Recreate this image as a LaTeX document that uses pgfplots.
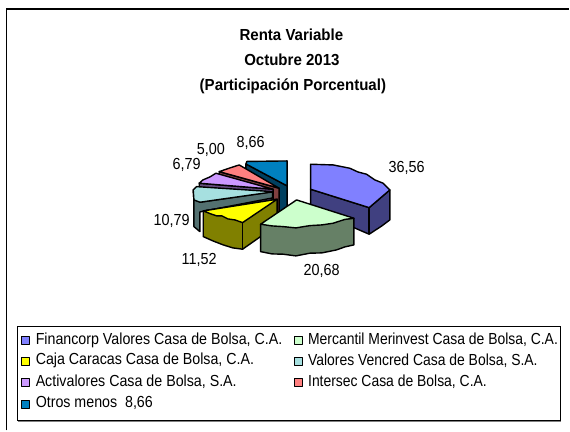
\documentclass[border=0pt]{standalone}
\usepackage{pgfplots}
\pgfplotsset{compat=1.18}
\usepackage{fontspec}
\setmainfont[FakeStretch=0.9]{Liberation Sans}
\newfontfamily\legfont[FakeStretch=0.89]{Liberation Sans}
\newfontfamily\legtwo[FakeStretch=0.87]{Liberation Sans}
\newfontfamily\titfont[FakeStretch=0.94]{Liberation Sans}
\definecolor{bt}{HTML}{8080FF}\definecolor{bs}{HTML}{404080}
\definecolor{gt}{HTML}{CCFFCC}\definecolor{gs}{HTML}{668066}
\definecolor{yt}{HTML}{FFFF00}\definecolor{ys}{HTML}{808000}
\definecolor{ct}{HTML}{A6E0E0}\definecolor{cs}{HTML}{537070}
\definecolor{pt}{HTML}{CC99FF}\definecolor{ps}{HTML}{664C80}
\definecolor{rt}{HTML}{FF8080}\definecolor{rs}{HTML}{804040}
\definecolor{nt}{HTML}{0080C0}\definecolor{ns}{HTML}{004060}
\pgfplotsset{poly/.style={draw=black,line width=1.05pt,line join=round,mark=none,fill=#1}}
\newcommand\tit[3]{\node[font=\titfont\bfseries\fontsize{12pt}{14pt}\selectfont] at (axis cs:#1,#2) {#3};}
\newcommand\dat[3]{\node[font=\fontsize{12pt}{14pt}\selectfont] at (axis cs:#1,#2) {#3};}
\newcommand\leg[3]{\node[anchor=west,inner xsep=0pt,font=\legfont\fontsize{12pt}{14pt}\selectfont] at (axis cs:#1,#2) {#3};}
\newcommand\legb[3]{\node[anchor=west,inner xsep=0pt,font=\legtwo\fontsize{12pt}{14pt}\selectfont] at (axis cs:#1,#2) {#3};}
\begin{document}
\begin{tikzpicture}
\begin{axis}[scale only axis,width=427.5pt,height=323.25pt,
  xmin=0,xmax=570,ymin=0,ymax=431,y dir=reverse,axis lines=none,clip=false]
\addplot[draw=none,mark=none] coordinates {(0,0)(570,431)};
% frame
\addplot[black,line width=1.1pt,mark=none] coordinates {(6.5,430.5)(6.5,9)(569.5,9)};
% otros
\addplot[poly=ns] coordinates {(246,164)(287.3,186)(287.3,213)(270,225)(246,190)} -- cycle;
\addplot[poly=nt] coordinates {(246,164)(247,161.5)(287.3,161)(287.3,186)} -- cycle;
% intersec
\addplot[poly=rs] coordinates {(219.3,171.7)(279.3,188.3)(279.3,215)(219.3,198)} -- cycle;
\addplot[poly=rt] coordinates {(219.3,171.7)(230,168)(239.3,165)(279.3,188.3)} -- cycle;
% activalores
\addplot[poly=ps] coordinates {(199.3,183.3)(273.3,189.3)(273.3,215)(199.3,209)} -- cycle;
\addplot[poly=pt] coordinates {(199.3,183.3)(203,180)(210,177)(216,173.3)(273.3,189.3)} -- cycle;
% vencred
\addplot[poly=cs] coordinates {(193.3,190)(194,200)(194,226.7)(200,231.7)(200,212)(272.7,198)(272.7,191.7)(200,202.3)} -- cycle;
\addplot[poly=ct] coordinates {(193.3,190)(196.7,186.7)(272.7,191.7)(272.7,192)(200,202.3)(194,200)} -- cycle;
% caja caracas
\addplot[poly=ys] coordinates {(203.3,211)(203.3,236.7)(213,241)(223.3,245)(233,248)(242.7,249.3)(277.3,225)(277.3,199.3)} -- cycle;
\addplot[poly=yt] coordinates {(203.3,211)(211,214)(217,216)(222,216)(228,219)(235,220)(242.7,222.7)(277.3,199.3)} -- cycle;
\addplot[black,line width=1.05pt,mark=none] coordinates {(242.7,222.7)(242.7,249.3)};
% financorp
\addplot[poly=bs] coordinates {(310.7,189.3)(369.3,207.7)(390,190)(390,220)(382,226)(369.3,234.3)(350,226)(310.7,215)} -- cycle;
\addplot[poly=bt] coordinates {(310.7,189.3)(310.7,164.3)(333.3,165)(350,168.3)(358,172)(366.7,174.3)(375,180)(383.3,183.3)(390,190)(369.3,207.7)} -- cycle;
\addplot[black,line width=1.05pt,mark=none] coordinates {(369.3,207.7)(369.3,234.3)};
% mercantil
\addplot[poly=gs] coordinates {(260.7,224.3)(260.7,251.7)(272,254)(283.3,254.3)(296,256)(310,253.3)(322,253)(336.7,250)(345,247)(354,245)(354,218.3)} -- cycle;
\addplot[poly=gt] coordinates {(296.7,200)(260.7,224.3)(272,226)(283.3,226.7)(296,228)(310,225.7)(322,225)(333.3,223.3)(345,219.5)(354,218.3)} -- cycle;
% title
\tit{291.5}{35}{Renta Variable}
\tit{292}{60}{Octubre 2013}
\tit{293}{86}{(Participación Porcentual)}
% data labels
\dat{406.7}{168}{36,56}
\dat{321.7}{270.7}{20,68}
\dat{199.3}{260}{11,52}
\dat{171.7}{220.7}{10,79}
\dat{186.7}{165}{6,79}
\dat{211}{150}{5,00}
\dat{250.7}{142.7}{8,66}
% legend box
\addplot[gray,line width=1.1pt,mark=none] coordinates {(18,421.8)(561.5,421.8)};
\addplot[draw=black,line width=0.8pt,mark=none,fill=white] coordinates {(17.3,326.7)(561,326.7)(561,420.8)(17.3,420.8)} -- cycle;
\addplot[poly=bt,line width=0.8pt] coordinates {(21.5,336.5)(29.5,336.5)(29.5,344.5)(21.5,344.5)} -- cycle;
\addplot[poly=yt,line width=0.8pt] coordinates {(21.5,358)(29.5,358)(29.5,366)(21.5,366)} -- cycle;
\addplot[poly=pt,line width=0.8pt] coordinates {(21.5,379)(29.5,379)(29.5,387)(21.5,387)} -- cycle;
\addplot[poly=nt,line width=0.8pt] coordinates {(21.5,400.5)(29.5,400.5)(29.5,408.5)(21.5,408.5)} -- cycle;
\addplot[poly=gt,line width=0.8pt] coordinates {(295,336.5)(303,336.5)(303,344.5)(295,344.5)} -- cycle;
\addplot[poly=ct,line width=0.8pt] coordinates {(295,358)(303,358)(303,366)(295,366)} -- cycle;
\addplot[poly=rt,line width=0.8pt] coordinates {(295,379)(303,379)(303,387)(295,387)} -- cycle;
\leg{35.5}{340}{Financorp Valores Casa de Bolsa, C.A.}
\leg{35.5}{361}{Caja Caracas Casa de Bolsa, C.A.}
\leg{35.5}{382.3}{Activalores Casa de Bolsa, S.A.}
\leg{35.5}{403.5}{Otros menos\ \ 8,66}
\legb{308}{340}{Mercantil Merinvest Casa de Bolsa, C.A.}
\legb{308}{361}{Valores Vencred Casa de Bolsa, S.A.}
\legb{308}{382.3}{Intersec Casa de Bolsa, C.A.}
\end{axis}
\end{tikzpicture}
\end{document}
